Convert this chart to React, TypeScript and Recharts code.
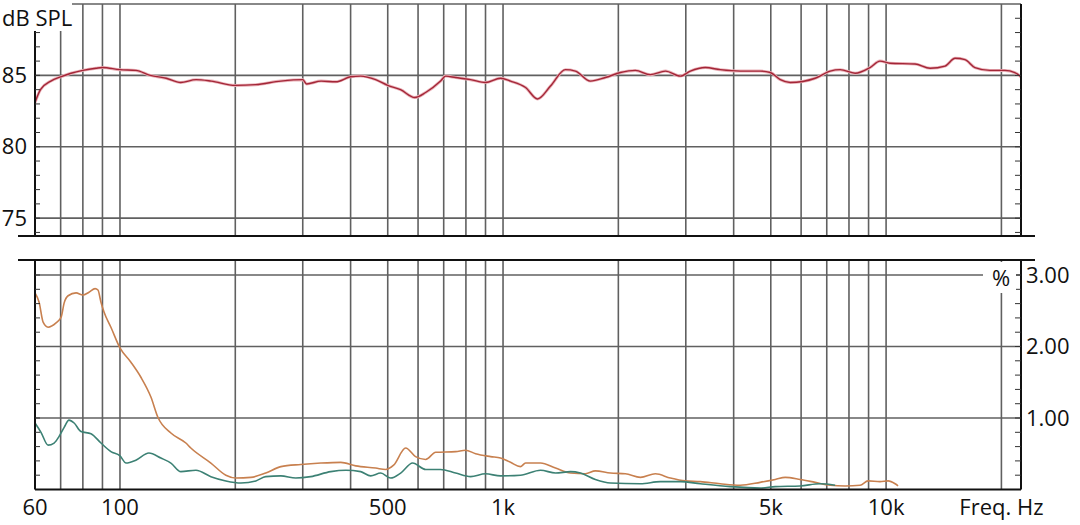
import React from 'react';
import { LineChart, Line, XAxis, YAxis, ReferenceLine } from 'recharts';

// ---------- data ----------
const splFreq = [60, 62, 66, 70, 74.5, 80, 86.6, 90, 100, 110, 120, 132, 144, 158, 173, 200, 226, 263, 300, 307, 335, 366, 400, 425, 465, 500, 540, 588, 628, 687, 708, 752, 823, 900, 985, 1046, 1145, 1230, 1330, 1455, 1545, 1690, 1850, 2025, 2215, 2425, 2655, 2905, 3083, 3373, 3690, 4160, 4690, 4985, 5295, 5620, 6530, 7145, 7590, 8300, 9080, 9640, 10240, 11900, 13030, 14250, 15140, 16070, 17060, 18670, 20420, 21680, 22490];
const splDb = [83.1, 84.0, 84.6, 84.9, 85.15, 85.35, 85.5, 85.55, 85.4, 85.35, 85.0, 84.8, 84.5, 84.7, 84.6, 84.3, 84.35, 84.6, 84.7, 84.4, 84.6, 84.55, 84.9, 84.95, 84.7, 84.3, 84.0, 83.45, 83.8, 84.6, 84.95, 84.85, 84.7, 84.5, 84.8, 84.6, 84.15, 83.35, 84.25, 85.4, 85.3, 84.6, 84.85, 85.2, 85.35, 85.05, 85.3, 84.95, 85.3, 85.55, 85.4, 85.3, 85.3, 85.2, 84.7, 84.5, 84.8, 85.3, 85.4, 85.15, 85.55, 86.0, 85.85, 85.8, 85.5, 85.65, 86.2, 86.1, 85.55, 85.35, 85.35, 85.2, 84.9];

const h2Freq = [60, 61.5, 63, 64.9, 68.1, 70.2, 71.5, 73.2, 76.8, 80, 83, 86.1, 87.6, 89.2, 90.9, 94.7, 100, 106.8, 113.4, 120.5, 125.6, 135.8, 148.6, 153.1, 172.7, 189, 200.6, 219.6, 240.2, 263, 296.5, 334.5, 377, 412.6, 465, 494, 518, 557, 591, 628, 667, 752, 798, 848, 928, 985, 1046, 1110, 1145, 1253, 1371, 1500, 1641, 1742, 1907, 2086, 2284, 2499, 2734, 2991, 3273, 3690, 4160, 4690, 5135, 5453, 5966, 6530, 7145, 7817, 8554, 8975, 9640, 10120, 10556, 10747];
const h2Pct = [2.75, 2.62, 2.34, 2.27, 2.33, 2.41, 2.61, 2.71, 2.75, 2.72, 2.76, 2.81, 2.79, 2.62, 2.48, 2.27, 1.98, 1.78, 1.57, 1.29, 1.01, 0.79, 0.65, 0.58, 0.37, 0.2, 0.16, 0.17, 0.23, 0.32, 0.35, 0.37, 0.38, 0.33, 0.3, 0.28, 0.34, 0.58, 0.46, 0.42, 0.52, 0.53, 0.55, 0.5, 0.46, 0.44, 0.38, 0.32, 0.37, 0.37, 0.3, 0.23, 0.22, 0.26, 0.23, 0.22, 0.17, 0.22, 0.16, 0.12, 0.11, 0.08, 0.06, 0.1, 0.14, 0.17, 0.14, 0.1, 0.06, 0.05, 0.06, 0.12, 0.11, 0.12, 0.08, 0.05];

const h3Freq = [60, 62.2, 64.9, 67.3, 69.3, 71.5, 73.6, 75.9, 79.1, 84, 89.2, 94.7, 100, 103.7, 110, 119, 127.9, 135.8, 144.2, 157.9, 172.7, 189, 206.9, 226.3, 240.2, 263, 287.7, 314.8, 354.9, 388.5, 425, 451.3, 479.5, 509, 540.5, 580.8, 628, 687, 752, 823, 900, 985, 1110, 1253, 1371, 1500, 1593, 1742, 1907, 2284, 2575, 2905, 3273, 3920, 4690, 5135, 5966, 6729, 7362];
const h3Pct = [0.93, 0.8, 0.62, 0.65, 0.74, 0.87, 0.97, 0.93, 0.81, 0.78, 0.65, 0.53, 0.47, 0.37, 0.41, 0.51, 0.44, 0.37, 0.25, 0.27, 0.18, 0.12, 0.09, 0.12, 0.18, 0.19, 0.16, 0.18, 0.25, 0.27, 0.25, 0.19, 0.23, 0.16, 0.23, 0.37, 0.28, 0.28, 0.23, 0.18, 0.22, 0.19, 0.2, 0.27, 0.23, 0.25, 0.23, 0.14, 0.09, 0.08, 0.11, 0.11, 0.08, 0.04, 0.02, 0.04, 0.05, 0.08, 0.06];

const gridFreqs = [70, 80, 90, 100, 200, 300, 400, 500, 600, 700, 800, 900, 1000, 2000, 3000, 4000, 5000, 6000, 7000, 8000, 9000, 10000, 20000];
const xTickValues = [60, 100, 500, 1000, 5000, 10000, 20000];
const xTickLabels = ['60', '100', '500', '1k', '5k', '10k', 'Freq. Hz'];

const splTicks = [74, 75, 76, 77, 78, 79, 80, 81, 82, 83, 84, 85, 86, 87, 88, 89];
const splLabels = [75, 80, 85];
const splGrid = [90, 85, 80, 75];

const pctTicks = [0.2, 0.4, 0.6, 0.8, 1.0, 1.2, 1.4, 1.6, 1.8, 2.0, 2.2, 2.4, 2.6, 2.8, 3.0];
const pctLabels = [1, 2, 3];
const pctGrid = [3, 2, 1];

// ---------- style ----------
const FONT = '"Open Sans", "Noto Sans", sans-serif';
const TXT = '#111';
const GRID = '#606060';
const X_DOMAIN: [number, number] = [60, 22500];

const splData = splFreq.map((f, i) => ({ f, v: splDb[i] }));
const h2Data = h2Freq.map((f, i) => ({ f, v: h2Pct[i] }));
const h3Data = h3Freq.map((f, i) => ({ f, v: h3Pct[i] }));

const isLabel = (v: number, list: number[]) => list.some((l) => Math.abs(l - v) < 1e-6);

const makeTick = (side: 'left' | 'right', labels: number[], fmt: (v: number) => string) => (props: any) => {
  const { x, y, payload } = props;
  const v = payload.value as number;
  const inner = side === 'left' ? x + 5 : x - 6;
  return (
    <g>
      <line x1={x} x2={inner} y1={y} y2={y} stroke="#333" strokeWidth={1} />
      {isLabel(v, labels) && (
        <text
          x={side === 'left' ? x - 8 : x + 5}
          y={y}
          dy="0.35em"
          textAnchor={side === 'left' ? 'end' : 'start'}
          fontFamily={FONT}
          fontSize={22}
          fill={TXT}
        >
          {fmt(v)}
        </text>
      )}
    </g>
  );
};

const axisLine = { stroke: '#111', strokeWidth: 2 };

export default function App() {
  return (
    <div style={{ position: 'absolute', left: 0, top: 0, width: 1080, height: 525, background: '#fff', overflow: 'hidden' }}>
      {/* Top panel: SPL */}
      <div style={{ position: 'absolute', left: 0, top: 0 }}>
        <LineChart width={1080} height={250} margin={{ top: 4, right: 0, bottom: 14, left: 0 }}>
          <XAxis type="number" dataKey="f" scale="log" domain={X_DOMAIN} allowDataOverflow hide height={0} />
          <YAxis
            orientation="left"
            width={35}
            type="number"
            domain={[73.75, 90]}
            allowDataOverflow
            ticks={splTicks}
            interval={0}
            tickSize={0}
            tickMargin={0}
            tickLine={false}
            axisLine={axisLine}
            tick={makeTick('left', splLabels, (v) => String(v))}
          />
          <YAxis
            yAxisId="r"
            orientation="right"
            width={59}
            type="number"
            domain={[73.75, 90]}
            allowDataOverflow
            ticks={splTicks}
            interval={0}
            tickSize={0}
            tickMargin={0}
            tickLine={false}
            axisLine={axisLine}
            tick={makeTick('right', [], (v) => String(v))}
          />
          {splGrid.map((v) => (
            <ReferenceLine key={'h' + v} y={v} stroke={GRID} strokeWidth={1.6} />
          ))}
          {gridFreqs.map((f) => (
            <ReferenceLine key={'v' + f} x={f} stroke={GRID} strokeWidth={1.6} />
          ))}
          <Line data={splData} dataKey="v" type="monotone" stroke="#eab1b8" strokeWidth={3} dot={false} isAnimationActive={false} />
          <Line data={splData} dataKey="v" type="monotone" stroke="#a32637" strokeWidth={1.4} dot={false} isAnimationActive={false} />
        </LineChart>
      </div>

      {/* Bottom panel: distortion */}
      <div style={{ position: 'absolute', left: 0, top: 250 }}>
        <LineChart width={1080} height={275} margin={{ top: 10, right: 0, bottom: 0, left: 0 }}>
          <XAxis
            type="number"
            dataKey="f"
            scale="log"
            domain={X_DOMAIN}
            allowDataOverflow
            height={35.5}
            ticks={xTickValues}
            interval={0}
            tickSize={0}
            tickMargin={10}
            tickLine={false}
            axisLine={axisLine}
            tickFormatter={(v: number) => xTickLabels[xTickValues.indexOf(v)] ?? ''}
            tick={{ fontFamily: FONT, fontSize: 22, fill: TXT }}
          />
          <YAxis
            orientation="left"
            width={35}
            type="number"
            domain={[0, 3.21]}
            allowDataOverflow
            ticks={pctTicks}
            interval={0}
            tickSize={0}
            tickMargin={0}
            tickLine={false}
            axisLine={axisLine}
            tick={makeTick('left', [], (v) => v.toFixed(2))}
          />
          <YAxis
            yAxisId="r"
            orientation="right"
            width={59}
            type="number"
            domain={[0, 3.21]}
            allowDataOverflow
            ticks={pctTicks}
            interval={0}
            tickSize={0}
            tickMargin={0}
            tickLine={false}
            axisLine={axisLine}
            tick={makeTick('right', pctLabels, (v) => v.toFixed(2))}
          />
          {pctGrid.map((v) => (
            <ReferenceLine key={'h' + v} y={v} stroke={GRID} strokeWidth={1.6} />
          ))}
          {gridFreqs.map((f) => (
            <ReferenceLine key={'v' + f} x={f} stroke={GRID} strokeWidth={1.6} />
          ))}
          <Line data={h2Data} dataKey="v" type="monotone" stroke="#c8804f" strokeWidth={1.6} dot={false} isAnimationActive={false} />
          <Line data={h3Data} dataKey="v" type="monotone" stroke="#3c8174" strokeWidth={1.6} dot={false} isAnimationActive={false} />
        </LineChart>
      </div>

      {/* Overlay: panel separators and unit labels */}
      <svg width={1080} height={525} style={{ position: 'absolute', left: 0, top: 0, pointerEvents: 'none' }}>
        <line x1={18} x2={1035} y1={236} y2={236} stroke="#111" strokeWidth={2.2} />
        <line x1={18} x2={1035} y1={260} y2={260} stroke="#111" strokeWidth={2.2} />
        <rect x={0} y={0} width={72} height={31} fill="#fff" />
        <text x={2} y={26} fontFamily={FONT} fontSize={22} fill={TXT}>dB SPL</text>
        <rect x={983} y={262} width={33} height={31} fill="#fff" />
        <text x={1001} y={286} textAnchor="middle" fontFamily={FONT} fontSize={22} fill={TXT}>%</text>
      </svg>
    </div>
  );
}
